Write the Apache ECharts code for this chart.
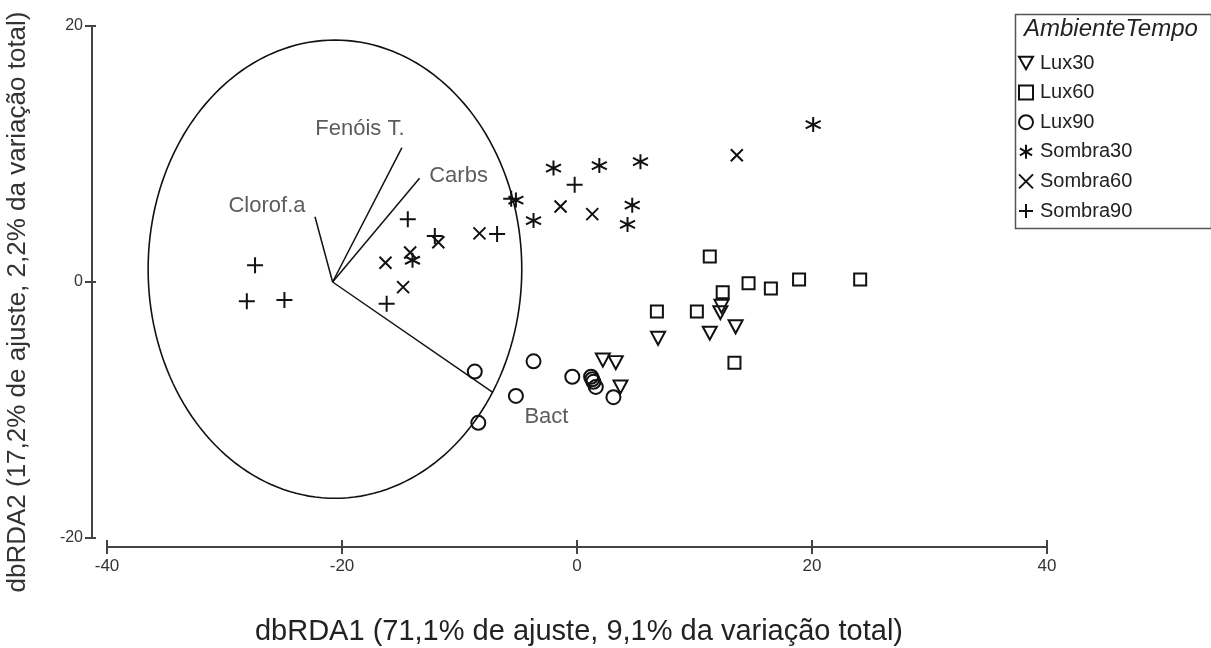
<!DOCTYPE html>
<html>
<head>
<meta charset="utf-8">
<title>dbRDA</title>
<script src="https://cdn.jsdelivr.net/npm/echarts@6/dist/echarts.min.js"></script>
<style>
  html, body { margin: 0; padding: 0; background: #fff; }
  #chart { width: 1211px; height: 648px; }
</style>
</head>
<body>
<div id="chart"></div>
<script>
// Sample scores on the first two dbRDA axes, per group
const lux30 = [[2.2, -6.1], [3.3, -6.3], [3.7, -8.2], [6.9, -4.4], [11.3, -4.0], [13.5, -3.5], [12.3, -1.9], [12.2, -2.4]];
const lux60 = [[11.3, 2.0], [12.4, -0.8], [14.6, -0.1], [16.5, -0.5], [18.9, 0.2], [24.1, 0.2], [6.8, -2.3], [10.2, -2.3], [13.4, -6.3]];
const lux90 = [[-8.7, -7.0], [-3.7, -6.2], [-5.2, -8.9], [-8.4, -11.0], [-0.4, -7.4], [1.2, -7.4], [1.4, -7.8], [1.6, -8.2], [1.3, -7.6], [3.1, -9.0]];
const sombra30 = [[-5.2, 6.4], [-3.7, 4.8], [-2.0, 8.9], [1.9, 9.1], [5.4, 9.4], [4.7, 6.0], [4.3, 4.5], [20.1, 12.3], [-14.0, 1.7]];
const sombra60 = [[-1.4, 5.9], [1.3, 5.3], [13.6, 9.9], [-8.3, 3.8], [-11.8, 3.1], [-14.2, 2.3], [-16.3, 1.5], [-14.8, -0.4]];
const sombra90 = [[-27.4, 1.3], [-28.1, -1.5], [-24.9, -1.4], [-16.2, -1.7], [-14.4, 4.9], [-12.1, 3.6], [-6.8, 3.75], [-0.2, 7.6], [-5.6, 6.5]];

const groupNames = ['Lux30', 'Lux60', 'Lux90', 'Sombra30', 'Sombra60', 'Sombra90'];

// Predictor vectors (start at the common origin)
const vectorOrigin = [-20.8, 0];
const vectorNames = ['Clorof.a', 'Fenóis T.', 'Carbs', 'Bact'];
const vectorEnds = [[-22.3, 5.1], [-14.9, 10.5], [-13.4, 8.1], [-7.2, -8.6]];

// Reference circle around the vectors (centre, radius in x and y units)
const circleCentre = [-20.6, 1.0];
const circleRadius = [15.9, 17.9];

// Axis ranges and tick step
const xRange = [-40, 40];
const yRange = [-20, 20];
const tickStep = 20;

const xTitle = 'dbRDA1 (71,1% de ajuste, 9,1% da variação total)';
const yTitle = 'dbRDA2 (17,2% de ajuste, 2,2% da variação total)';
const legendTitle = 'AmbienteTempo';

const FONT = "'Liberation Sans', Arial, sans-serif";
const INK = '#111';
const AXIS = '#444';

const symbols = {
  Lux30: 'path://M0,0L10,0L5,9Z',
  Lux60: 'rect',
  Lux90: 'circle',
  Sombra30: 'path://M5,0L5,10M0.67,2.5L9.33,7.5M0.67,7.5L9.33,2.5',
  Sombra60: 'path://M0,0L10,10M10,0L0,10',
  Sombra90: 'path://M0,5L10,5M5,0L5,10'
};
const sizes = { Lux30: [14, 13], Lux60: 12, Lux90: 14, Sombra30: 15, Sombra60: 12, Sombra90: 16 };
const groupData = { Lux30: lux30, Lux60: lux60, Lux90: lux90, Sombra30: sombra30, Sombra60: sombra60, Sombra90: sombra90 };

const pointSeries = groupNames.map(name => ({
  name: name,
  type: 'scatter',
  data: groupData[name],
  symbol: symbols[name],
  symbolSize: sizes[name],
  itemStyle: { color: 'rgba(0,0,0,0)', borderColor: INK, borderWidth: 2, opacity: 1 },
  emphasis: { disabled: true },
  z: 5
}));

// Label offsets for the vector names, relative to the arrow tips
const labelOffsets = [[-48, -11], [-42, -19], [39, -2], [54, 25]];

const chart = echarts.init(document.getElementById('chart'), null, { renderer: 'canvas' });

const tickStyle = { color: AXIS, width: 2 };
const labelStyle = { color: '#333', fontSize: 17, fontFamily: FONT };

chart.setOption({
  animation: false,
  backgroundColor: '#fff',
  grid: { left: 107, right: 164, top: 26, bottom: 110, containLabel: false },
  xAxis: [
    { type: 'value', min: xRange[0], max: xRange[1], interval: tickStep, position: 'bottom', offset: 9,
      splitLine: { show: false },
      axisLine: { show: true, onZero: false, lineStyle: { color: AXIS, width: 2 } },
      axisTick: { show: true, length: 7, lineStyle: tickStyle },
      axisLabel: Object.assign({ margin: 11 }, labelStyle) },
    // inner half of the crossing ticks
    { type: 'value', min: xRange[0], max: xRange[1], interval: tickStep, position: 'bottom', offset: 9,
      splitLine: { show: false },
      axisLine: { show: false, onZero: false },
      axisLabel: { show: false },
      axisTick: { show: true, inside: true, length: 7, lineStyle: tickStyle } }
  ],
  yAxis: [
    { type: 'value', min: yRange[0], max: yRange[1], interval: tickStep, position: 'left', offset: 15,
      splitLine: { show: false },
      axisLine: { show: true, onZero: false, lineStyle: { color: AXIS, width: 2 } },
      axisTick: { show: true, length: 7, lineStyle: tickStyle },
      axisLabel: Object.assign({ margin: 9 }, labelStyle, { fontSize: 16 }) },
    { type: 'value', min: yRange[0], max: yRange[1], interval: tickStep, position: 'left', offset: 15,
      splitLine: { show: false },
      axisLine: { show: false, onZero: false },
      axisLabel: { show: false },
      axisTick: { show: true, inside: true, length: 4, lineStyle: tickStyle } }
  ],
  legend: {
    data: groupNames,
    orient: 'vertical',
    left: 1013,
    top: 48,
    padding: 5,
    itemWidth: 14,
    itemHeight: 14,
    itemGap: 9.6,
    selectedMode: false,
    itemStyle: { color: 'rgba(0,0,0,0)', borderColor: INK, borderWidth: 2 },
    textStyle: { color: '#222', fontSize: 20, fontFamily: FONT, padding: [0, 0, 0, 2] }
  },
  graphic: [
    { type: 'rect', left: 1013, top: 12, shape: { width: 196, height: 214 },
      style: { fill: 'none', stroke: '#555', lineWidth: 1.5 }, z: 10 },
    { type: 'text', left: 1024, top: 17,
      style: { text: legendTitle, font: 'italic 24px ' + FONT, fill: '#222' }, z: 10 },
    { type: 'text', x: 579, y: 632,
      style: { text: xTitle, font: '29px ' + FONT, fill: '#222', align: 'center', verticalAlign: 'middle' } },
    { type: 'text', x: 18, y: 302, rotation: Math.PI / 2,
      style: { text: yTitle, font: '26px ' + FONT, fill: '#333', align: 'center', verticalAlign: 'middle' } }
  ],
  series: [
    {
      name: 'circle',
      type: 'custom',
      silent: true,
      data: [circleCentre],
      renderItem: function (params, api) {
        const pts = [];
        for (let i = 0; i <= 180; i++) {
          const t = (i / 180) * Math.PI * 2;
          pts.push(api.coord([circleCentre[0] + circleRadius[0] * Math.cos(t), circleCentre[1] + circleRadius[1] * Math.sin(t)]));
        }
        return { type: 'polyline', shape: { points: pts }, style: { stroke: INK, lineWidth: 1.6, fill: null } };
      },
      z: 2
    },
    {
      name: 'vectors',
      type: 'lines',
      coordinateSystem: 'cartesian2d',
      silent: true,
      lineStyle: { color: INK, width: 1.5, opacity: 1 },
      data: vectorEnds.map(e => ({ coords: [vectorOrigin, e] })),
      z: 3
    },
    {
      name: 'vectorLabels',
      type: 'scatter',
      silent: true,
      symbolSize: 0,
      data: vectorEnds.map((e, i) => ({
        value: e,
        label: {
          show: true,
          formatter: vectorNames[i],
          position: 'inside',
          offset: labelOffsets[i],
          color: '#333',
          fontSize: 22,
          fontFamily: FONT
        }
      })),
      z: 4
    }
  ].concat(pointSeries)
});
</script>
</body>
</html>
